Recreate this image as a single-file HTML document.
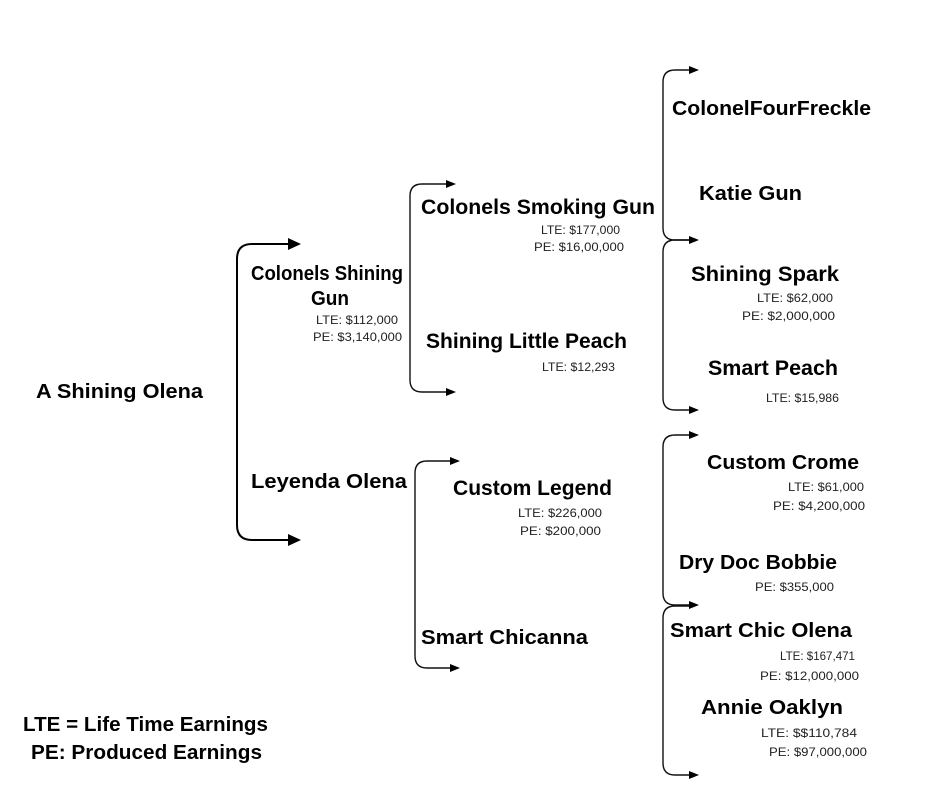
<!DOCTYPE html>
<html><head><meta charset="utf-8"><style>
html,body{margin:0;padding:0;background:#fff;}
svg{display:block;}
.b{font-family:"Liberation Sans",sans-serif;font-weight:bold;fill:#000;}
.s{font-family:"Liberation Sans",sans-serif;fill:#222;font-size:12px;}
</style></head><body>
<svg width="940" height="788" viewBox="0 0 940 788" xmlns="http://www.w3.org/2000/svg">
<g fill="none" stroke="#000" stroke-width="2">
<path d="M237,259 Q237,244 252,244 H290"/><path d="M237,525 Q237,540 252,540 H290"/><path d="M237,259 V525"/>
</g>
<g fill="#000">
<path d="M288,238 L301,244 L288,250 Z"/><path d="M288,534 L301,540 L288,546 Z"/>
</g>
<g fill="none" stroke="#111" stroke-width="1.4">
<path d="M447,184 H422 Q410,184 410,196 V380 Q410,392 422,392 H447"/>
<path d="M451,461 H427 Q415,461 415,473 V656 Q415,668 427,668 H451"/>
<path d="M690,70 H675 Q663,70 663,82 V228 Q663,240 675,240 H690"/>
<path d="M690,240 H675 Q663,240 663,252 V398 Q663,410 675,410 H690"/>
<path d="M690,435 H675 Q663,435 663,447 V593 Q663,605 675,605 H690"/>
<path d="M690,606 H675 Q663,606 663,618 V763 Q663,775 675,775 H690"/>
</g>
<g fill="#000">
<path d="M446,180 L456,184 L446,188 Z"/><path d="M446,388 L456,392 L446,396 Z"/>
<path d="M450,457 L460,461 L450,465 Z"/><path d="M450,664 L460,668 L450,672 Z"/>
<path d="M689,66 L699,70 L689,74 Z"/><path d="M689,236 L699,240 L689,244 Z"/>
<path d="M689,406 L699,410 L689,414 Z"/><path d="M689,431 L699,435 L689,439 Z"/>
<path d="M689,601 L699,605 L689,609 Z"/><path d="M689,771 L699,775 L689,779 Z"/>
</g>
<g class="b" font-size="20">
<text x="36" y="398" textLength="167" lengthAdjust="spacingAndGlyphs">A Shining Olena</text>
<text x="251" y="280" textLength="152" lengthAdjust="spacingAndGlyphs">Colonels Shining</text>
<text x="311" y="305" textLength="38" lengthAdjust="spacingAndGlyphs">Gun</text>
<text x="251" y="488" textLength="156" lengthAdjust="spacingAndGlyphs">Leyenda Olena</text>
<text x="421" y="214" font-size="21" textLength="234" lengthAdjust="spacingAndGlyphs">Colonels Smoking Gun</text>
<text x="426" y="348" font-size="21" textLength="201" lengthAdjust="spacingAndGlyphs">Shining Little Peach</text>
<text x="453" y="495" font-size="21" textLength="159" lengthAdjust="spacingAndGlyphs">Custom Legend</text>
<text x="421" y="644" textLength="167" lengthAdjust="spacingAndGlyphs">Smart Chicanna</text>
<text x="672" y="115" textLength="199" lengthAdjust="spacingAndGlyphs">ColonelFourFreckle</text>
<text x="699" y="200" textLength="103" lengthAdjust="spacingAndGlyphs">Katie Gun</text>
<text x="691" y="281" font-size="21" textLength="148" lengthAdjust="spacingAndGlyphs">Shining Spark</text>
<text x="708" y="375" font-size="21" textLength="130" lengthAdjust="spacingAndGlyphs">Smart Peach</text>
<text x="707" y="469" textLength="152" lengthAdjust="spacingAndGlyphs">Custom Crome</text>
<text x="679" y="569" textLength="158" lengthAdjust="spacingAndGlyphs">Dry Doc Bobbie</text>
<text x="670" y="637" textLength="182" lengthAdjust="spacingAndGlyphs">Smart Chic Olena</text>
<text x="701" y="714" textLength="142" lengthAdjust="spacingAndGlyphs">Annie Oaklyn</text>
<text x="23" y="731" textLength="245" lengthAdjust="spacingAndGlyphs">LTE = Life Time Earnings</text>
<text x="31" y="759" textLength="231" lengthAdjust="spacingAndGlyphs">PE: Produced Earnings</text>
</g>
<g class="s">
<text x="316" y="324" textLength="82" lengthAdjust="spacingAndGlyphs">LTE: $112,000</text>
<text x="313" y="341" textLength="89" lengthAdjust="spacingAndGlyphs">PE: $3,140,000</text>
<text x="541" y="234" textLength="79" lengthAdjust="spacingAndGlyphs">LTE: $177,000</text>
<text x="534" y="251" textLength="90" lengthAdjust="spacingAndGlyphs">PE: $16,00,000</text>
<text x="542" y="371" textLength="73" lengthAdjust="spacingAndGlyphs">LTE: $12,293</text>
<text x="518" y="517" textLength="84" lengthAdjust="spacingAndGlyphs">LTE: $226,000</text>
<text x="520" y="535" textLength="81" lengthAdjust="spacingAndGlyphs">PE: $200,000</text>
<text x="757" y="302" textLength="76" lengthAdjust="spacingAndGlyphs">LTE: $62,000</text>
<text x="742" y="320" textLength="93" lengthAdjust="spacingAndGlyphs">PE: $2,000,000</text>
<text x="766" y="402" textLength="73" lengthAdjust="spacingAndGlyphs">LTE: $15,986</text>
<text x="788" y="491" textLength="76" lengthAdjust="spacingAndGlyphs">LTE: $61,000</text>
<text x="773" y="510" textLength="92" lengthAdjust="spacingAndGlyphs">PE: $4,200,000</text>
<text x="755" y="591" textLength="79" lengthAdjust="spacingAndGlyphs">PE: $355,000</text>
<text x="780" y="660" textLength="75" lengthAdjust="spacingAndGlyphs">LTE: $167,471</text>
<text x="760" y="680" textLength="99" lengthAdjust="spacingAndGlyphs">PE: $12,000,000</text>
<text x="761" y="737" textLength="96" lengthAdjust="spacingAndGlyphs">LTE: $$110,784</text>
<text x="769" y="756" textLength="98" lengthAdjust="spacingAndGlyphs">PE: $97,000,000</text>
</g>
</svg>
</body></html>
